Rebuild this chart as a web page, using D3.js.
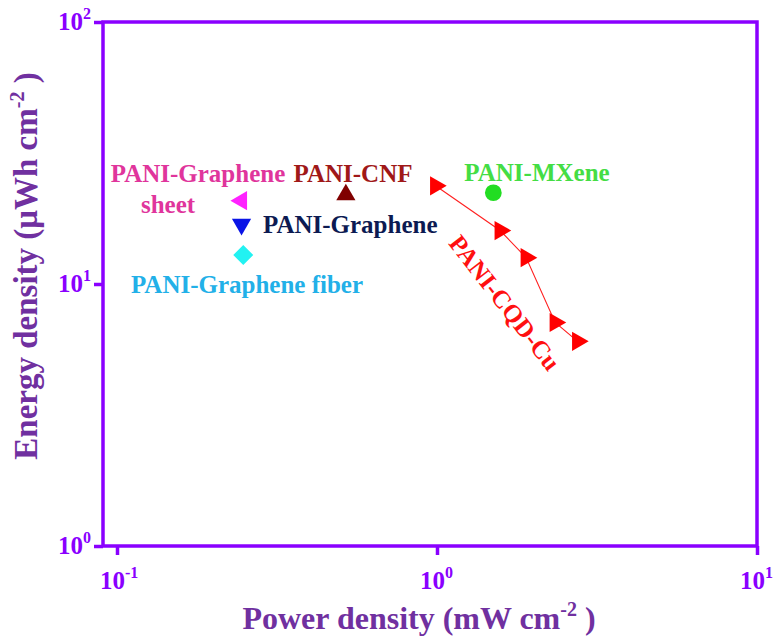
<!DOCTYPE html>
<html><head><meta charset="utf-8">
<script src="https://cdn.jsdelivr.net/npm/d3@7"></script>
<style>body{margin:0;background:#fff}svg{display:block}text{font-family:"Liberation Serif","Times New Roman",serif;font-weight:bold}</style>
</head><body>
<svg id="c" width="774" height="643"></svg>
<script>
// Data
const xTicks = [0.1, 1, 10];
const xTickExp = ["-1", "0", "1"];
const yTicks = [1, 10, 100];
const yTickExp = ["0", "1", "2"];

const cqdPower = [0.99, 1.575, 1.90, 2.34, 2.75];
const cqdEnergy = [23.7, 16.0, 12.6, 7.13, 6.04];

const singleNames = ["PANI-Graphene sheet", "PANI-Graphene", "PANI-Graphene fiber", "PANI-CNF", "PANI-MXene"];
const singlePower = [0.245, 0.245, 0.248, 0.519, 1.50];
const singleEnergy = [20.8, 16.9, 12.9, 21.9, 22.3];
const singleColors = ["#ff22ff", "#0a14e6", "#22f2f2", "#800000", "#22dd22"];
const singleShapes = ["triLeft", "triDown", "diamond", "triUp", "circle"];

const svg = d3.select("#c");
const L = 103, R = 757, T = 22, B = 546;
const x = d3.scaleLog().domain([Math.pow(10, -1 - 14/320), 10]).range([L, R]);
const y = d3.scaleLog().domain([1, 100]).range([B, T]);
const axisColor = "#8a00ff";
const titleColor = "#7030a0";

// frame
svg.append("rect").attr("x", L).attr("y", T).attr("width", R - L).attr("height", B - T)
  .attr("fill", "none").attr("stroke", axisColor).attr("stroke-width", 3.5);

// axes
const xAxis = d3.axisBottom(x).tickValues(xTicks).tickSize(9).tickFormat("");
const gx = svg.append("g").attr("transform", `translate(0,${B})`).call(xAxis);
gx.select(".domain").remove();
gx.selectAll("line").attr("stroke", axisColor).attr("stroke-width", 3.5);
const yAxis = d3.axisLeft(y).tickValues(yTicks).tickSize(9).tickFormat("");
const gy = svg.append("g").attr("transform", `translate(${L},0)`).call(yAxis);
gy.select(".domain").remove();
gy.selectAll("line").attr("stroke", axisColor).attr("stroke-width", 3.5);

// tick labels
xTicks.forEach((v, i) => {
  const t = svg.append("text").attr("x", x(v) - 17).attr("y", B + 43).attr("text-anchor", "start")
    .attr("fill", axisColor).attr("font-size", 25);
  t.append("tspan").text("10");
  t.append("tspan").attr("dy", -11).attr("font-size", 16).text(xTickExp[i]);
});
yTicks.forEach((v, i) => {
  const t = svg.append("text").attr("x", L - 12).attr("y", y(v) + 8).attr("text-anchor", "end")
    .attr("fill", axisColor).attr("font-size", 25);
  t.append("tspan").text("10");
  t.append("tspan").attr("dy", -11).attr("font-size", 16).text(yTickExp[i]);
});

// axis titles
const xt = svg.append("text").attr("x", 419).attr("y", 629).attr("text-anchor", "middle")
  .attr("fill", titleColor).attr("font-size", 32);
xt.append("tspan").text("Power density (mW cm");
xt.append("tspan").attr("dy", -13).attr("font-size", 20).text("-2");
xt.append("tspan").attr("dy", 13).text(" )");

const yt = svg.append("text").attr("transform", "translate(37,266) rotate(-90)").attr("text-anchor", "middle")
  .attr("fill", titleColor).attr("font-size", 33);
yt.append("tspan").text("Energy density (\u03bcWh cm");
yt.append("tspan").attr("dy", -13).attr("font-size", 20).text("-2");
yt.append("tspan").attr("dy", 13).text(" )");

// markers
function sym(shape) {
  if (shape === "circle") return { d: d3.symbol(d3.symbolCircle, 220)(), rot: 0 };
  if (shape === "diamond") return { d: d3.symbol(d3.symbolSquare, 200)(), rot: 45 };
  const d = d3.symbol(d3.symbolTriangle, 160)();
  const rot = { triUp: 0, triDown: 180, triLeft: -90, triRight: 90 }[shape];
  return { d, rot };
}

// CQD line
const cqd = cqdPower.map((p, i) => [p, cqdEnergy[i]]);
svg.append("path").attr("d", d3.line().x(d => x(d[0])).y(d => y(d[1]))(cqd))
  .attr("fill", "none").attr("stroke", "#ff2020").attr("stroke-width", 1.1);
cqd.forEach(d => {
  const s = sym("triRight");
  svg.append("path").attr("d", s.d).attr("fill", "#ff0000")
    .attr("transform", `translate(${x(d[0])},${y(d[1])}) rotate(${s.rot})`);
});

singlePower.forEach((p, i) => {
  const s = sym(singleShapes[i]);
  svg.append("path").attr("d", s.d).attr("fill", singleColors[i])
    .attr("transform", `translate(${x(p)},${y(singleEnergy[i])}) rotate(${s.rot})`);
});

// labels
function label(txt, xx, yy, color, anchor) {
  return svg.append("text").attr("x", xx).attr("y", yy).attr("fill", color).attr("font-size", 25)
    .attr("text-anchor", anchor || "start").text(txt);
}
label("PANI-Graphene", 198, 182, "#e0359c", "middle");
label("sheet", 168, 213, "#e0359c", "middle");
label("PANI-CNF", 353, 182, "#a01818", "middle");
label("PANI-Graphene", 263, 233, "#0c1a52", "start");
label("PANI-Graphene fiber", 247, 293, "#22b0e8", "middle");
label("PANI-MXene", 537, 181, "#44dd44", "middle");
svg.append("text").attr("fill", "#ff1010").attr("font-size", 25).attr("text-anchor", "middle")
  .attr("transform", "translate(498,308) rotate(52)").text("PANI-CQD-Cu");
</script>
</body></html>
